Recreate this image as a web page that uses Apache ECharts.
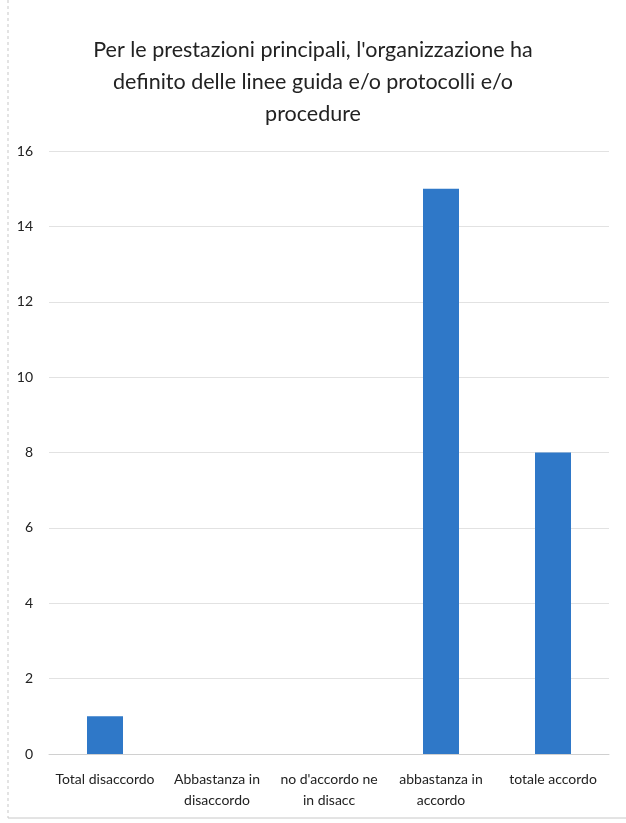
<!DOCTYPE html>
<html><head><meta charset="utf-8">
<script src="https://cdn.jsdelivr.net/npm/echarts@6/dist/echarts.min.js"></script>
<style>html,body{margin:0;padding:0;background:#fff}#c{width:626px;height:823px}</style>
</head><body><div id="c"></div>
<script>
const titleText = "Per le prestazioni principali, l'organizzazione ha\ndefinito delle linee guida e/o protocolli e/o\nprocedure";
const categories = ["Total disaccordo", "Abbastanza in\ndisaccordo", "no d'accordo ne\nin disacc", "abbastanza in\naccordo", "totale accordo"];
const values = [1, 0, 0, 15, 8];
const yMin = 0, yMax = 16, yStep = 2;

const font = "Lato, 'Open Sans', sans-serif";
const chart = echarts.init(document.getElementById('c'), null, {renderer: 'canvas'});
chart.setOption({
  animation: false,
  backgroundColor: '#fff',
  title: {
    text: titleText, left: 'center', top: 29,
    textStyle: {fontFamily: font, fontSize: 21.5, fontWeight: 'normal', color: '#222', lineHeight: 32}
  },
  grid: {left: 49, right: 17, top: 151, bottom: 69, containLabel: false},
  xAxis: {
    type: 'category', data: categories,
    axisLine: {show: true, lineStyle: {color: '#d0d0d0'}},
    axisTick: {show: false},
    axisLabel: {fontFamily: font, fontSize: 14, color: '#222', margin: 15, lineHeight: 21, interval: 0}
  },
  yAxis: {
    type: 'value', min: yMin, max: yMax, interval: yStep,
    axisLine: {show: false}, axisTick: {show: false},
    splitLine: {lineStyle: {color: '#e2e2e2'}},
    axisLabel: {fontFamily: font, fontSize: 14, color: '#222', margin: 16}
  },
  series: [{
    type: 'bar', data: values, barWidth: 36,
    itemStyle: {color: '#2f78c8'}
  }],
  graphic: [
    {type: 'line', shape: {x1: 8, y1: 0, x2: 8, y2: 818}, style: {stroke: '#c8c8c8', lineWidth: 1, lineDash: [3, 3]}},
    {type: 'line', shape: {x1: 8, y1: 818, x2: 626, y2: 818}, style: {stroke: '#c8c8c8', lineWidth: 1}}
  ]
});
</script></body></html>
